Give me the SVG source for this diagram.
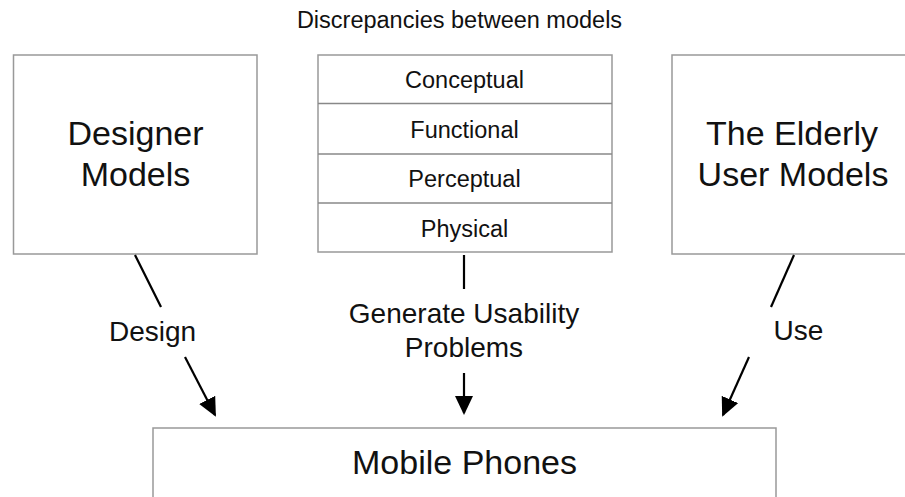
<svg xmlns="http://www.w3.org/2000/svg" width="905" height="497" viewBox="0 0 905 497">
<style>
.box{fill:#fff;stroke:#999;stroke-width:1.5}
.sep{stroke:#888;stroke-width:1.5}
.t{font-family:"Liberation Sans",Arial,sans-serif;fill:#111;text-anchor:middle}
.big{font-size:34px}
.mid{font-size:28px}
.sm{font-size:23.5px}
.conn{stroke:#000;stroke-width:2.2;fill:none}
</style>
<defs>
<marker id="ah" markerUnits="userSpaceOnUse" markerWidth="19" markerHeight="18" refX="17" refY="9" orient="auto">
<path d="M0,0 L19,9 L0,18 z" fill="#000"/>
</marker>
</defs>
<rect width="905" height="497" fill="#fff"/>
<text class="t sm" x="459.5" y="28">Discrepancies between models</text>
<g id="designer">
<rect class="box" x="13.5" y="55" width="243.5" height="199"/>
<text class="t big" x="135.5" y="145">Designer</text>
<text class="t big" x="135.5" y="186">Models</text>
</g>
<g id="discrepancies">
<rect class="box" x="318" y="55" width="294" height="197"/>
<line class="sep" x1="318" y1="103.5" x2="612" y2="103.5"/>
<line class="sep" x1="318" y1="154" x2="612" y2="154"/>
<line class="sep" x1="318" y1="203" x2="612" y2="203"/>
<text class="t sm" x="464.5" y="88">Conceptual</text>
<text class="t sm" x="464.5" y="138">Functional</text>
<text class="t sm" x="464.5" y="187">Perceptual</text>
<text class="t sm" x="464.5" y="237">Physical</text>
</g>
<g id="elderly">
<rect class="box" x="672" y="55" width="240" height="199"/>
<text class="t big" x="792" y="145">The Elderly</text>
<text class="t big" x="793" y="186">User Models</text>
</g>
<g id="mobile">
<rect class="box" x="153" y="428" width="623" height="80"/>
<text class="t big" x="464.5" y="474">Mobile Phones</text>
</g>
<g id="connectors">
<line class="conn" x1="135" y1="255" x2="161" y2="307"/>
<line class="conn" x1="185" y1="357" x2="215" y2="415" marker-end="url(#ah)"/>
<line class="conn" x1="464" y1="255" x2="464" y2="289"/>
<line class="conn" x1="464" y1="373" x2="464" y2="413" marker-end="url(#ah)"/>
<line class="conn" x1="794" y1="255" x2="771" y2="307"/>
<line class="conn" x1="749" y1="357" x2="723" y2="415" marker-end="url(#ah)"/>
<text class="t mid" x="152.5" y="341">Design</text>
<text class="t mid" x="464" y="323">Generate Usability</text>
<text class="t mid" x="464" y="357">Problems</text>
<text class="t mid" x="798.5" y="340">Use</text>
</g>
</svg>
